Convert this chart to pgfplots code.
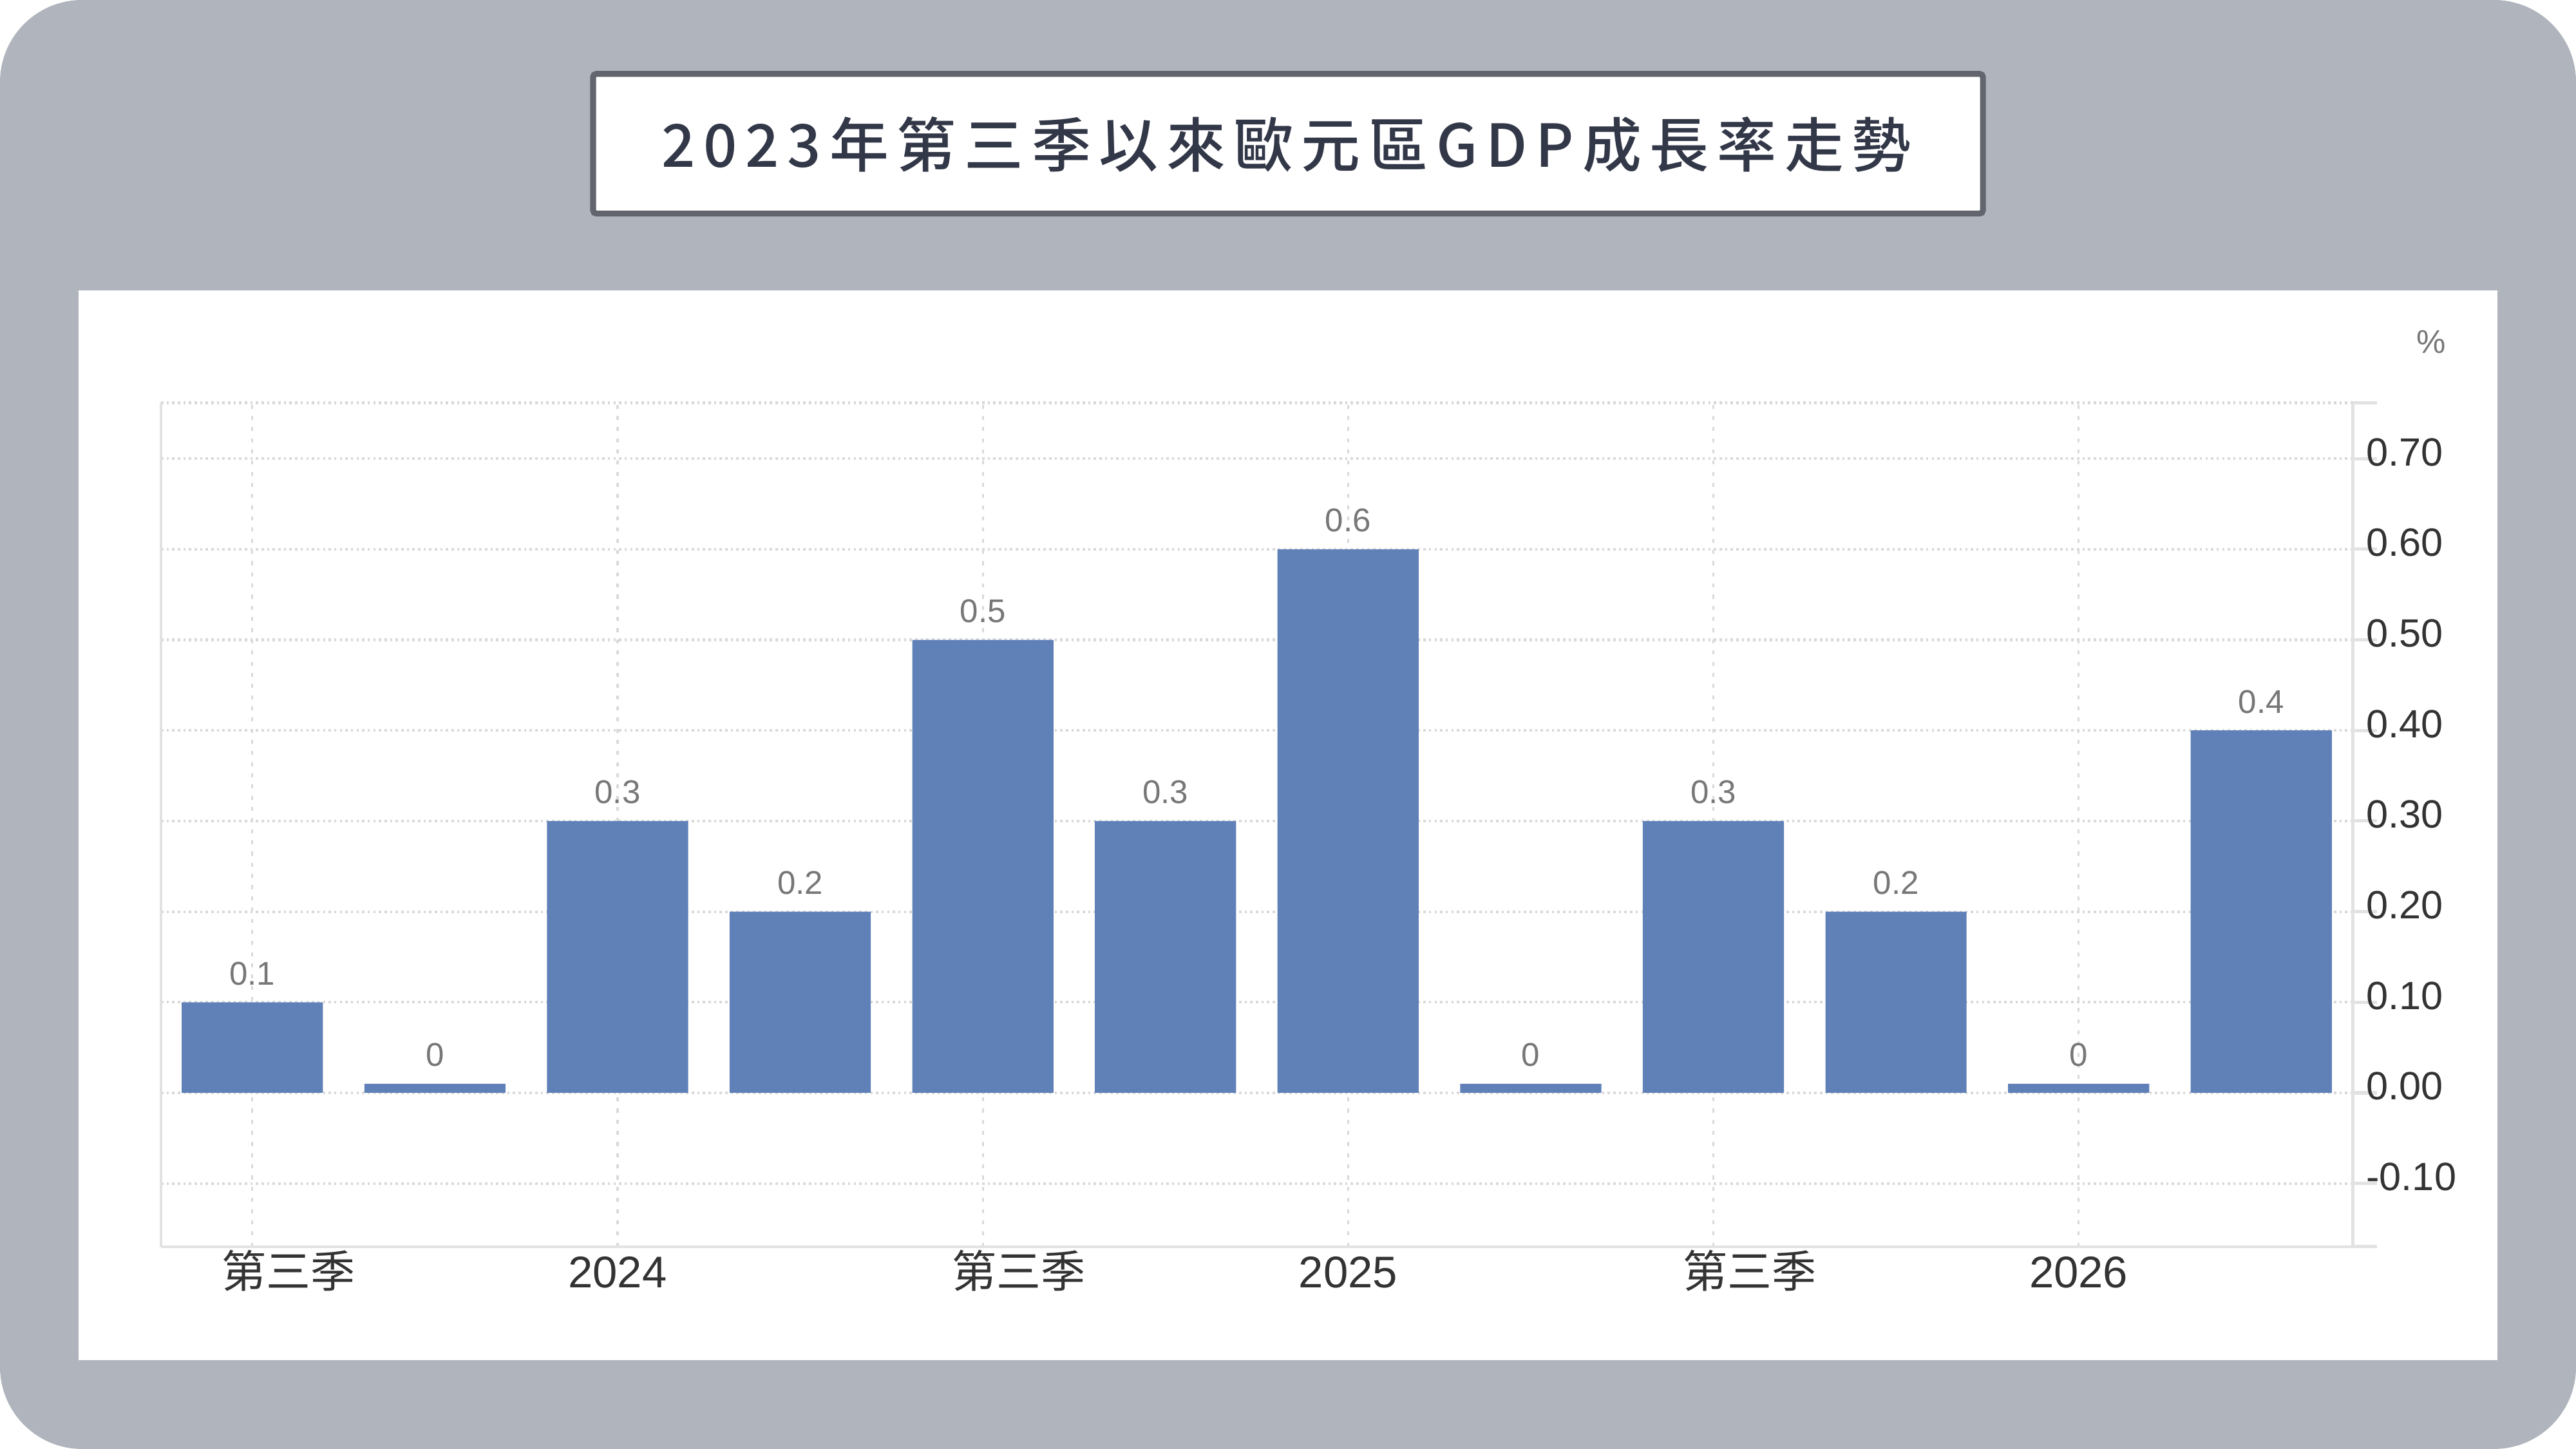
\documentclass[border=0pt]{standalone}
\usepackage{pgfplots}
\usepackage{pgfplotstable}
\pgfplotsset{compat=1.18}
\usepackage{fontspec}
\setmainfont{Liberation Sans}
\newfontfamily\cjk{Noto Sans CJK TC}
\newfontfamily\titlefont[LetterSpace=14]{Noto Sans CJK TC Medium}
\definecolor{bg}{HTML}{B0B4BD}
\definecolor{boxborder}{HTML}{62656E}
\definecolor{titletext}{HTML}{333849}
\definecolor{barblue}{HTML}{6080B8}
\definecolor{gridgray}{HTML}{D9D9D9}
\definecolor{framegray}{HTML}{E2E2E2}
\definecolor{valgray}{HTML}{777777}
\definecolor{ticktext}{HTML}{333333}

\pgfplotstableread{
x y lab
0 0.1 0.1
1 0.01 0
2 0.3 0.3
3 0.2 0.2
4 0.5 0.5
5 0.3 0.3
6 0.6 0.6
7 0.01 0
8 0.3 0.3
9 0.2 0.2
10 0.01 0
11 0.4 0.4
}\gdpdata

\begin{document}
\begin{tikzpicture}
\fill[bg, rounded corners=25pt] (0,0) rectangle (784pt,441pt);
\fill[white] (24pt,27pt) rectangle (760pt,352.5pt);
\draw[boxborder, line width=1.8pt, fill=white, rounded corners=1pt] (180.5pt,376pt) rectangle (603.5pt,418.5pt);
\node[font=\titlefont\fontsize{18}{20}\selectfont, text=titletext, inner sep=0pt] at (391.5pt,397pt) {2023年第三季以來歐元區GDP成長率走勢};
\node[font=\fontsize{10}{12}\selectfont, text=valgray, inner sep=0pt] at (740pt,337pt) {\%};
\begin{axis}[
  at={(49pt,61.6pt)}, anchor=south west,
  scale only axis, width=667pt, height=256.8pt,
  xmin=-0.5, xmax=11.5, ymin=-0.1697, ymax=0.7616,
  clip=false,
  axis line style={draw=none},
  ybar, bar width=0.773,
  xtick={0,2,4,6,8,10},
  xticklabels={{\hspace*{22pt}\cjk 第三季},2024,{\hspace*{22pt}\cjk 第三季},2025,{\hspace*{22pt}\cjk 第三季},2026},
  ytick={-0.1,0,0.1,0.2,0.3,0.4,0.5,0.6,0.7},
  ytick pos=right, yticklabel pos=right,
  /pgf/number format/assume math mode=true,
  yticklabel={\pgfmathprintnumber[fixed,fixed zerofill,precision=2]{\tick}},
  tick align=outside, major tick length=7.5pt,
  xtick style={draw=none},
  ytick style={draw=framegray, line width=1pt},
  xmajorgrids, ymajorgrids,
  x grid style={gridgray, line width=0.6pt, dash pattern=on 1.2pt off 2.2pt},
  y grid style={gridgray, line width=0.8pt, dash pattern=on 0.7pt off 1pt},
  yticklabel style={font=\fontsize{12}{14}\selectfont, text=ticktext, anchor=west, inner sep=0pt, xshift=-3.5pt, yshift=2pt},
  xticklabel style={font=\fontsize{13.5}{15}\selectfont, text=ticktext, anchor=base, inner sep=0pt, yshift=-5pt},
]
\addplot[fill=barblue, draw=none,
  nodes near coords, point meta=explicit symbolic,
  nodes near coords style={font=\fontsize{10}{12}\selectfont, text=valgray, anchor=south, inner sep=0pt, yshift=5pt}]
  table[x=x, y=y, meta=lab] {\gdpdata};
\draw[gridgray, line width=0.8pt, dash pattern=on 0.7pt off 1pt] (rel axis cs:0,1) -- (rel axis cs:1,1);
\draw[framegray, line width=0.7pt] (rel axis cs:0,0) -- (rel axis cs:0,1);
\draw[framegray, line width=0.8pt] (rel axis cs:0,0) -- (rel axis cs:1,0);
\draw[framegray, line width=1pt] (rel axis cs:1,0) -- (rel axis cs:1,1);
\draw[framegray, line width=1pt] (rel axis cs:1,1) -- ++(7.5pt,0pt);
\draw[framegray, line width=1pt] (rel axis cs:1,0) -- ++(7.5pt,0pt);
\end{axis}
\end{tikzpicture}
\end{document}
